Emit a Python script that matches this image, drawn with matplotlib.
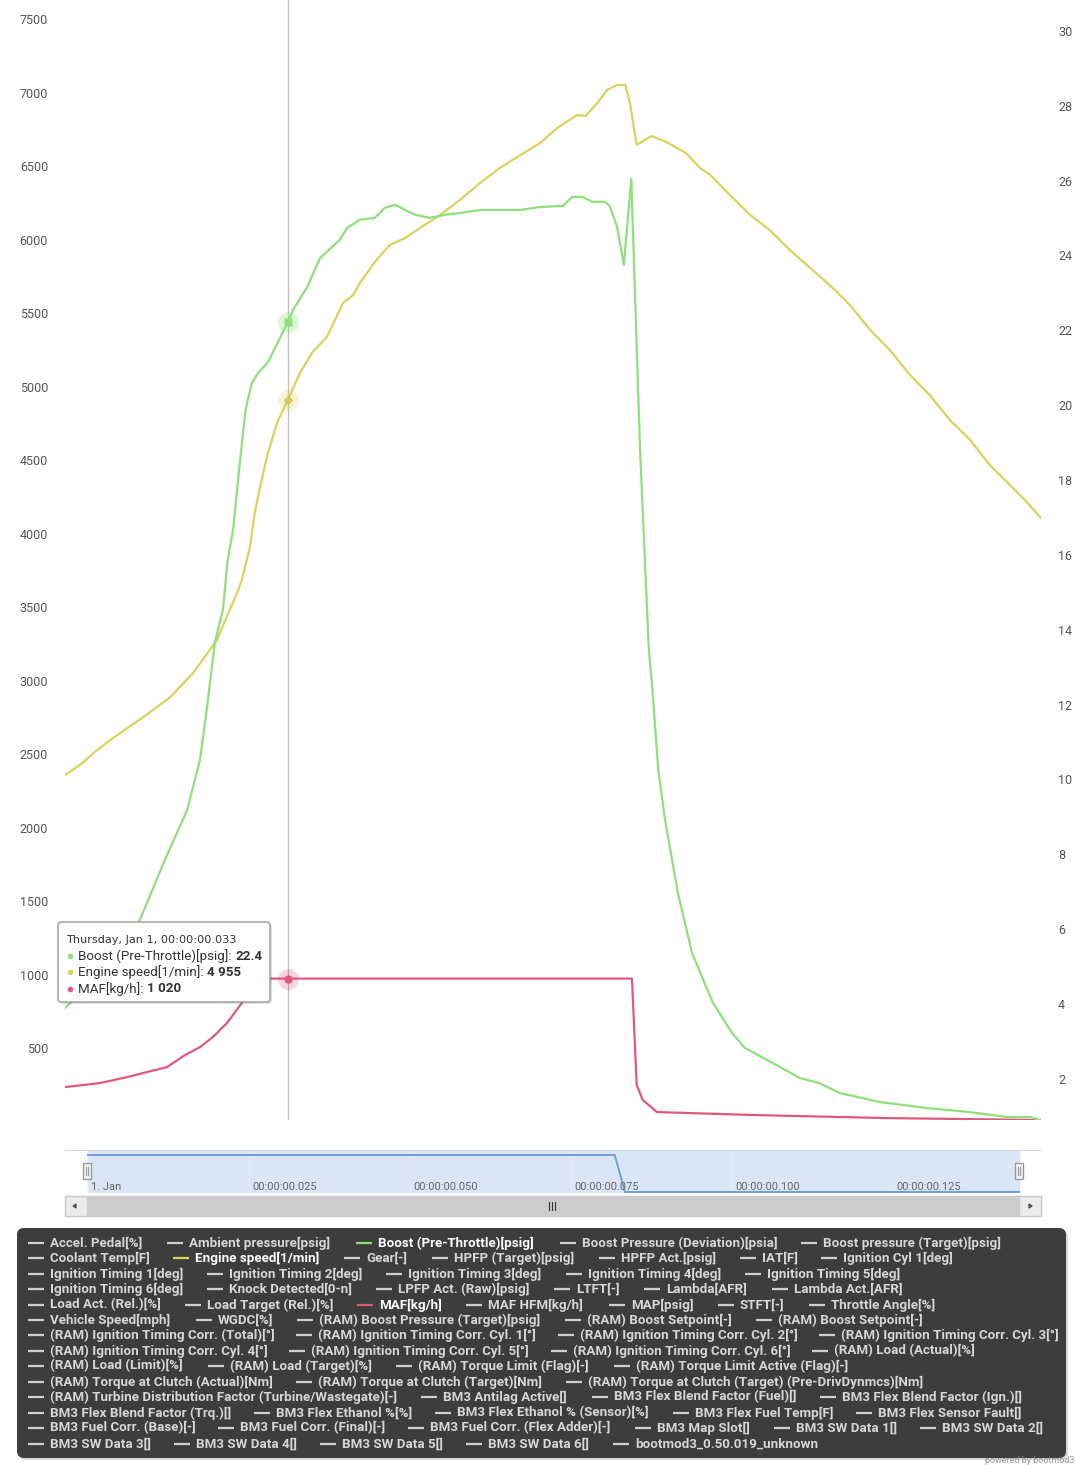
import matplotlib
matplotlib.use('Agg')
import matplotlib.pyplot as plt
from matplotlib.patches import FancyBboxPatch, Rectangle
from matplotlib.transforms import ScaledTranslation

plt.rcParams['font.family'] = ['Roboto', 'DejaVu Sans']

W, H, DPI = 1076, 1465, 100

# ---------------- data (time in ms) ----------------
rpm_t = [0, 2.2, 4.4, 6.7, 11.6, 15.6, 19.0, 22.5, 25.5, 26.2, 27.4, 28.1, 28.9, 29.9, 31.4, 33.0,
         34.8, 36.7, 38.8, 41.2, 42.7, 43.7, 45.9, 48.1, 50.4, 52.6, 55.6, 58.5, 61.5, 64.4, 67.4,
         70.4, 72.9, 75.9, 77.1, 79.0, 80.3, 81.8, 83.0, 83.7, 84.7, 86.9, 89.1, 92.0, 94.1,
         95.6, 98.5, 101.5, 104.4, 107.4, 110.4, 113.3, 116.3, 119.3, 122.2, 125.2, 128.1,
         131.1, 134.1, 137.0, 140.0, 142.2, 144.6]
rpm_v = [2405, 2473, 2561, 2643, 2799, 2935, 3099, 3323, 3643, 3731, 3956, 4187, 4364, 4568, 4800, 4955,
         5140, 5283, 5385, 5616, 5670, 5752, 5895, 6010, 6058, 6126, 6215, 6317, 6432, 6534, 6620,
         6704, 6806, 6895, 6888, 6983, 7065, 7099, 7099, 6976, 6691, 6752, 6711, 6636, 6534,
         6487, 6351, 6215, 6112, 5976, 5854, 5738, 5602, 5432, 5296, 5126, 4990,
         4820, 4684, 4514, 4378, 4276, 4153]

boost_t = [0, 5.2, 11.1, 14.8, 18.1, 20.0, 21.0, 22.2, 23.4, 24.1, 24.9, 25.9, 26.7, 27.0, 27.7,
           28.6, 30.1, 33.0, 33.8, 35.9, 37.8, 40.7, 41.8, 43.7, 45.9, 47.4, 48.9, 50.4, 51.9,
           54.1, 56.3, 58.5, 61.5, 64.4, 67.4, 70.4, 73.8, 75.1, 76.7, 78.1, 80.0, 80.7, 81.8,
           82.8, 83.9, 85.2, 86.5, 87.0, 87.9, 88.9, 90.8, 92.9, 96.0, 98.8, 100.7, 108.9,
           111.7, 114.8, 120.7, 127.7, 133.6, 139.6, 143.0, 144.4]
boost_v = [4.08, 4.97, 6.44, 8.04, 9.37, 10.71, 12.05, 13.84, 14.72, 16.05, 16.85, 18.64, 19.98, 20.27, 20.78,
           21.05, 21.34, 22.4, 22.73, 23.35, 24.12, 24.60, 24.92, 25.14, 25.19, 25.46, 25.54, 25.40, 25.27,
           25.19, 25.27, 25.32, 25.40, 25.40, 25.40, 25.48, 25.51, 25.75, 25.75, 25.62, 25.62, 25.51, 24.95,
           23.93, 26.23, 18.99, 13.65, 12.66, 10.44, 9.11, 7.16, 5.55, 4.22, 3.42, 3.02, 2.21,
           2.08, 1.81, 1.57, 1.41, 1.31, 1.17, 1.17, 1.09]

maf_t = [0, 5.2, 9.2, 15.1, 17.8, 20.0, 21.9, 24.0, 25.2, 26.2, 27.7, 28.6, 33.0, 84.0, 84.7, 85.6,
         87.7, 101.9, 121.8, 144.4]
maf_v = [282, 309, 350, 418, 500, 554, 622, 718, 792, 854, 976, 1020, 1020, 1020, 296, 194,
         112, 92, 71, 58]

nav_t = [0, 81.8, 83.4, 144.6]
nav_v = [100, 100, 0, 0]

hover_t = 33
hover_boost = 22.4
hover_rpm = 4955
hover_maf = 1020

left_ticks = list(range(500, 7501, 500))
right_ticks = list(range(2, 31, 2))
nav_ticks = [0, 25, 50, 75, 100, 125]
nav_labels = ['1. Jan', '00:00:00.025', '00:00:00.050', '00:00:00.075', '00:00:00.100', '00:00:00.125']

legend_rows = [
    ['Accel. Pedal[%]', 'Ambient pressure[psig]', 'Boost (Pre-Throttle)[psig]', 'Boost Pressure (Deviation)[psia]', 'Boost pressure (Target)[psig]'],
    ['Coolant Temp[F]', 'Engine speed[1/min]', 'Gear[-]', 'HPFP (Target)[psig]', 'HPFP Act.[psig]', 'IAT[F]', 'Ignition Cyl 1[deg]'],
    ['Ignition Timing 1[deg]', 'Ignition Timing 2[deg]', 'Ignition Timing 3[deg]', 'Ignition Timing 4[deg]', 'Ignition Timing 5[deg]'],
    ['Ignition Timing 6[deg]', 'Knock Detected[0-n]', 'LPFP Act. (Raw)[psig]', 'LTFT[-]', 'Lambda[AFR]', 'Lambda Act.[AFR]'],
    ['Load Act. (Rel.)[%]', 'Load Target (Rel.)[%]', 'MAF[kg/h]', 'MAF HFM[kg/h]', 'MAP[psig]', 'STFT[-]', 'Throttle Angle[%]'],
    ['Vehicle Speed[mph]', 'WGDC[%]', '(RAM) Boost Pressure (Target)[psig]', '(RAM) Boost Setpoint[-]', '(RAM) Boost Setpoint[-]'],
    ['(RAM) Ignition Timing Corr. (Total)[°]', '(RAM) Ignition Timing Corr. Cyl. 1[°]', '(RAM) Ignition Timing Corr. Cyl. 2[°]', '(RAM) Ignition Timing Corr. Cyl. 3[°]'],
    ['(RAM) Ignition Timing Corr. Cyl. 4[°]', '(RAM) Ignition Timing Corr. Cyl. 5[°]', '(RAM) Ignition Timing Corr. Cyl. 6[°]', '(RAM) Load (Actual)[%]'],
    ['(RAM) Load (Limit)[%]', '(RAM) Load (Target)[%]', '(RAM) Torque Limit (Flag)[-]', '(RAM) Torque Limit Active (Flag)[-]'],
    ['(RAM) Torque at Clutch (Actual)[Nm]', '(RAM) Torque at Clutch (Target)[Nm]', '(RAM) Torque at Clutch (Target) (Pre-DrivDynmcs)[Nm]'],
    ['(RAM) Turbine Distribution Factor (Turbine/Wastegate)[-]', 'BM3 Antilag Active[]', 'BM3 Flex Blend Factor (Fuel)[]', 'BM3 Flex Blend Factor (Ign.)[]'],
    ['BM3 Flex Blend Factor (Trq.)[]', 'BM3 Flex Ethanol %[%]', 'BM3 Flex Ethanol % (Sensor)[%]', 'BM3 Flex Fuel Temp[F]', 'BM3 Flex Sensor Fault[]'],
    ['BM3 Fuel Corr. (Base)[-]', 'BM3 Fuel Corr. (Final)[-]', 'BM3 Fuel Corr. (Flex Adder)[-]', 'BM3 Map Slot[]', 'BM3 SW Data 1[]', 'BM3 SW Data 2[]'],
    ['BM3 SW Data 3[]', 'BM3 SW Data 4[]', 'BM3 SW Data 5[]', 'BM3 SW Data 6[]', 'bootmod3_0.50.019_unknown'],
]
legend_x = [
    [50, 189, 378, 582, 823],
    [50, 195, 366, 454, 621, 762, 843],
    [50, 229, 408, 588, 767],
    [50, 229, 398, 576, 666, 794],
    [50, 207, 379, 488, 631, 740, 831],
    [50, 218, 319, 587, 778],
    [50, 318, 580, 841],
    [50, 311, 573, 834],
    [50, 230, 418, 636],
    [50, 318, 588],
    [50, 443, 614, 842],
    [50, 276, 457, 695, 878],
    [50, 240, 430, 657, 796, 942],
    [50, 196, 342, 488, 635],
]
legend_y = [1243, 1258, 1274, 1289, 1305, 1320, 1335, 1351, 1366, 1382, 1397, 1413, 1428, 1444]

C_BOOST = '#8fe07c'
C_RPM = '#dcd15a'
C_MAF = '#e0587c'
visible = {'Boost (Pre-Throttle)[psig]': C_BOOST, 'Engine speed[1/min]': C_RPM, 'MAF[kg/h]': C_MAF}

# ---------------- figure ----------------
fig = plt.figure(figsize=(W / DPI, H / DPI), dpi=DPI)
fig.patch.set_facecolor('white')

def fr(x0, y0, x1, y1):
    return [x0 / W, 1 - y1 / H, (x1 - x0) / W, (y1 - y0) / H]

ax = fig.add_axes(fr(65, 0, 1041, 1120))
ax2 = ax.twinx()
for a in (ax, ax2):
    for s in a.spines.values():
        s.set_visible(False)
    a.patch.set_alpha(0)
ax.set_xlim(0, 144.6)
ax.set_ylim(58, 7677)
ax2.set_ylim(1.09, 31.01)
ax.set_xticks([])
ax.set_yticks(left_ticks)
ax.set_yticklabels([str(v) for v in left_ticks])
ax2.set_yticks(right_ticks)
ax2.set_yticklabels([str(v) for v in right_ticks])
ax.tick_params(axis='y', length=0, pad=12.2, labelsize=9, labelcolor='#555555')
ax2.tick_params(axis='y', length=0, pad=12.2, labelsize=9, labelcolor='#555555')
off = ScaledTranslation(0, 7 / DPI, fig.dpi_scale_trans)
for lab in ax.get_yticklabels() + ax2.get_yticklabels():
    lab.set_transform(lab.get_transform() + off)

ax.axvline(hover_t, color='#c0c0c0', lw=1, zorder=1)
ax.plot(rpm_t, rpm_v, color=C_RPM, lw=1.6, zorder=3, solid_joinstyle='round')
ax.plot(maf_t, maf_v, color=C_MAF, lw=1.6, zorder=3, solid_joinstyle='round')
ax2.plot(boost_t, boost_v, color=C_BOOST, lw=1.6, zorder=3, solid_joinstyle='round')

# hover halos / markers
ax.plot(hover_t, hover_rpm, 'o', ms=15, color=C_RPM, alpha=0.25, mec='none', zorder=4)
ax.plot(hover_t, hover_rpm, 'D', ms=4.5, color=C_RPM, mec='#c8bd40', mew=0.6, zorder=5)
ax.plot(hover_t, hover_maf, 'o', ms=15, color=C_MAF, alpha=0.25, mec='none', zorder=4)
ax.plot(hover_t, hover_maf, 'o', ms=6, color=C_MAF, mec='none', zorder=5)
ax2.plot(hover_t, hover_boost, 'o', ms=15, color=C_BOOST, alpha=0.3, mec='none', zorder=4)
ax2.plot(hover_t, hover_boost, 's', ms=5.5, color=C_BOOST, mec='none', zorder=5)

# ---------------- navigator ----------------
nav = fig.add_axes(fr(65, 1150, 1041, 1193))
nav.set_xlim(-3.57, 148.0)
nav.set_ylim(-2.7, 113.5)
for s in nav.spines.values():
    s.set_visible(False)
nav.set_yticks([])
nav.set_xticks([])
nav.axvspan(0, 144.6, color='#dae6f6', zorder=0)
for t in nav_ticks:
    nav.axvline(t, color='#e4eaf2', lw=1, zorder=1)
nav.axhline(113.5, color='#cccccc', lw=1.2, zorder=2)
nav.plot(nav_t, nav_v, color='#6f9fd8', lw=1.4, zorder=3)
for t, lab in zip(nav_ticks, nav_labels):
    nav.annotate(lab, xy=(t, 0), xycoords=('data', 'axes fraction'), xytext=(3, 1),
                 textcoords='offset pixels', ha='left', va='bottom', fontsize=8, color='#666666')

# ---------------- overlay ----------------
ov = fig.add_axes([0, 0, 1, 1])
ov.set_xlim(0, W)
ov.set_ylim(H, 0)
ov.axis('off')
ov.patch.set_alpha(0)
ov.set_zorder(10)

# navigator handles
for hx in (87, 1019):
    ov.add_patch(Rectangle((hx - 4, 1163), 8, 16, fc='#f2f2f2', ec='#999999', lw=1))
    ov.plot([hx - 1, hx - 1], [1167, 1175], color='#999999', lw=0.8)
    ov.plot([hx + 1, hx + 1], [1167, 1175], color='#999999', lw=0.8)

# scrollbar
ov.add_patch(Rectangle((65, 1196), 976, 20, fc='#f2f2f2', ec='#e0e0e0', lw=1))
ov.add_patch(Rectangle((87, 1196), 932, 20, fc='#cccccc', ec='#cccccc', lw=1))
ov.add_patch(Rectangle((65, 1196), 22, 20, fc='#ebebeb', ec='#cccccc', lw=1))
ov.add_patch(Rectangle((1019, 1196), 22, 20, fc='#ebebeb', ec='#cccccc', lw=1))
ov.fill([76, 76, 73], [1204, 1208, 1206], color='#555555')
ov.fill([1029, 1029, 1032], [1204, 1208, 1206], color='#555555')
for dx in (-3, 0, 3):
    ov.plot([552 + dx, 552 + dx], [1202, 1210], color='#333333', lw=0.8)

# legend box
ov.add_patch(FancyBboxPatch((19, 1230), 1049, 230, boxstyle='round,pad=0,rounding_size=7',
                            fc='#bdbdbd', ec='none', alpha=0.6))
ov.add_patch(FancyBboxPatch((17, 1228), 1049, 230, boxstyle='round,pad=0,rounding_size=7',
                            fc='#3d3d3d', ec='none'))
for row, xs, y in zip(legend_rows, legend_x, legend_y):
    for lab, x in zip(row, xs):
        col = visible.get(lab)
        ov.plot([x - 22, x - 6], [y, y], color=col if col else '#cfcfcf', lw=1.6,
                solid_capstyle='butt')
        ov.text(x, y, lab, fontsize=9.65, fontweight='bold', va='center', ha='left',
                color='#ffffff' if col else '#d6d6d6')

ov.text(1074, 1465, 'powered by bootmod3', fontsize=6.5, color='#999999', ha='right', va='bottom')

# tooltip
ov.add_patch(FancyBboxPatch((60, 924), 212, 80, boxstyle='round,pad=0,rounding_size=3',
                            fc='#000000', ec='none', alpha=0.12))
ov.add_patch(FancyBboxPatch((58, 922), 212, 80, boxstyle='round,pad=0,rounding_size=3',
                            fc='#ffffff', ec='#9a9a9a', lw=1))
ov.text(66, 940, 'Thursday, Jan 1, 00:00:00.033', fontsize=8.1, color='#333333', va='center',
        ha='left', family=['DejaVu Sans'])
fig.canvas.draw()
renderer = fig.canvas.get_renderer()
tip_rows = [('Boost (Pre-Throttle)[psig]: ', f'{hover_boost:.1f}', C_BOOST),
            ('Engine speed[1/min]: ', f'{hover_rpm:,}'.replace(',', ' '), C_RPM),
            ('MAF[kg/h]: ', f'{hover_maf:,}'.replace(',', ' '), C_MAF)]
for (name, val, col), y in zip(tip_rows, [956, 972, 989]):
    ov.plot(70, y, 'o', ms=4, color=col, mec='none')
    t1 = ov.text(78, y, name, fontsize=9.6, color='#333333', va='center', ha='left')
    bb = t1.get_window_extent(renderer)
    xe = ov.transData.inverted().transform((bb.x1, bb.y0))[0]
    ov.text(xe, y, val, fontsize=9.6, fontweight='bold', color='#333333', va='center', ha='left')

fig.savefig('out.png', dpi=DPI)
